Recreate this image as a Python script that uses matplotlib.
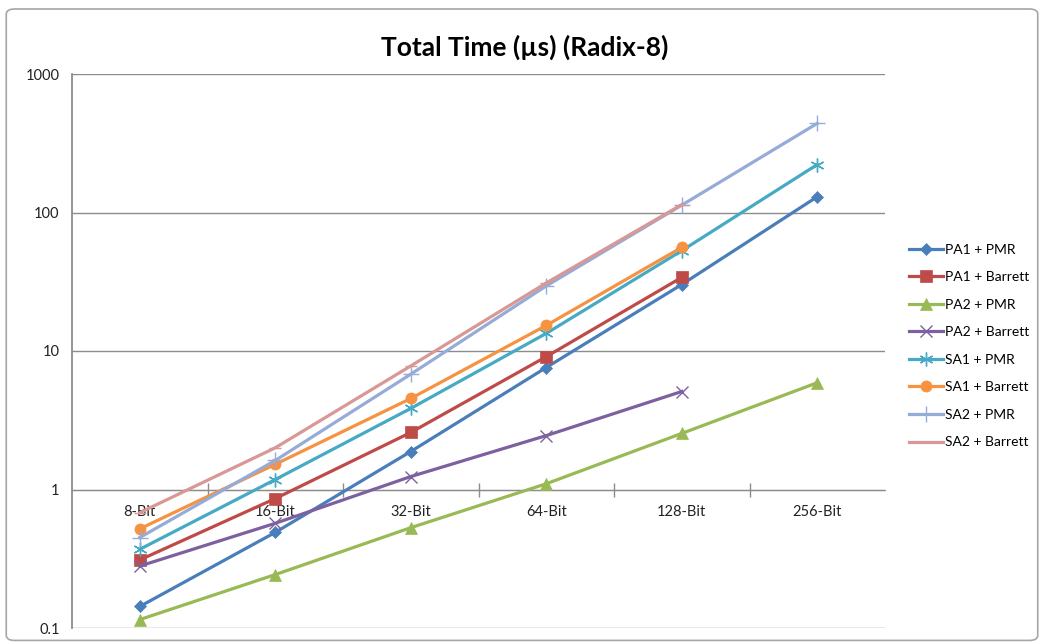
import matplotlib

matplotlib.use("Agg")
import matplotlib.pyplot as plt
from matplotlib.patches import FancyBboxPatch
from matplotlib.ticker import FixedLocator, NullFormatter

plt.rcParams["font.family"] = ["Lato", "DejaVu Sans"]

categories = ["8-Bit", "16-Bit", "32-Bit", "64-Bit", "128-Bit", "256-Bit"]

pa1_pmr = [0.143, 0.49, 1.88, 7.6, 30.2, 130]
pa1_barrett = [0.31, 0.86, 2.58, 9.1, 34]
pa2_pmr = [0.115, 0.243, 0.53, 1.10, 2.54, 5.9]
pa2_barrett = [0.28, 0.57, 1.24, 2.45, 5.1]
sa1_pmr = [0.37, 1.18, 3.85, 13.4, 53, 222]
sa1_barrett = [0.52, 1.52, 4.54, 15.3, 56]
sa2_pmr = [0.45, 1.62, 6.8, 29.5, 113, 440]
sa2_barrett = [0.68, 2.0, 7.8, 31, 114]

series = [
    ("PA1 + PMR", pa1_pmr, "#4A7EBB", "D", 6),
    ("PA1 + Barrett", pa1_barrett, "#BE4B48", "s", 8),
    ("PA2 + PMR", pa2_pmr, "#98B954", "^", 8),
    ("PA2 + Barrett", pa2_barrett, "#7D60A0", "x", 9),
    ("SA1 + PMR", sa1_pmr, "#46AAC5", (6, 2, 0), 10),
    ("SA1 + Barrett", sa1_barrett, "#F69240", "o", 8),
    ("SA2 + PMR", sa2_pmr, "#95ABD8", "+", 11),
    ("SA2 + Barrett", sa2_barrett, "#D99795", "_", 9),
]

grid_color = "#8C8C8C"
text_color = "#222222"

fig = plt.figure(figsize=(10.44, 6.43), dpi=100)
fig.patches.append(FancyBboxPatch((0.006, 0.004), 0.988, 0.982, boxstyle="round,pad=0,rounding_size=0.008",
                                  transform=fig.transFigure, fill=False, edgecolor="#A6A6A6", linewidth=1.2))
ax = fig.add_axes([72 / 1044, 1 - 628 / 643, (885 - 72) / 1044, (628 - 74) / 643])

for name, values, color, marker, msize in series:
    x = list(range(len(values)))
    thin = marker in ("x", "+", "_", (6, 2, 0))
    ax.plot(x, values, color=color, linewidth=2.3, marker=marker, markersize=msize,
            markeredgewidth=1.0 if thin else 0.5, markeredgecolor=color,
            label=name, clip_on=False, zorder=3)

ax.set_yscale("log")
ax.set_ylim(0.1, 1000)
ax.set_xlim(-0.5, len(categories) - 0.5)

ax.yaxis.set_major_locator(FixedLocator([0.1, 1, 10, 100, 1000]))
ax.yaxis.set_minor_locator(FixedLocator([]))
ax.set_yticklabels(["0.1", "1", "10", "100", "1000"])
ax.tick_params(axis="y", length=0, pad=9, labelsize=10.5, labelcolor=text_color)
ax.grid(axis="y", color=grid_color, linewidth=1.0, zorder=0)

# category axis crosses the value axis at 1
ax.spines["bottom"].set_position(("data", 1))
ax.spines["bottom"].set_color(grid_color)
ax.spines["left"].set_color(grid_color)
ax.spines["left"].set_linewidth(1.3)
ax.spines["top"].set_visible(False)
ax.spines["right"].set_visible(False)

ax.xaxis.set_major_locator(FixedLocator([i + 0.5 for i in range(len(categories) - 1)]))
ax.xaxis.set_major_formatter(NullFormatter())
ax.xaxis.set_minor_locator(FixedLocator(range(len(categories))))
ax.set_xticklabels(categories, minor=True)
ax.tick_params(axis="x", which="major", direction="inout", length=10, color=grid_color, width=1.0)
ax.tick_params(axis="x", which="minor", length=0, pad=11, labelsize=10.5, labelcolor=text_color)

fig.text(0.503, 0.927, "Total Time (\u00b5s) (Radix-8)", ha="center", va="center",
         fontsize=19, fontweight="bold", color="#000000")

ax.legend(loc="upper left", bbox_to_anchor=(903 / 1044, 1 - 238 / 643), bbox_transform=fig.transFigure,
          frameon=False, fontsize=10, handlelength=2.5, handletextpad=0.15, labelspacing=1.12,
          borderaxespad=0)

fig.savefig("out.png", dpi=100)
